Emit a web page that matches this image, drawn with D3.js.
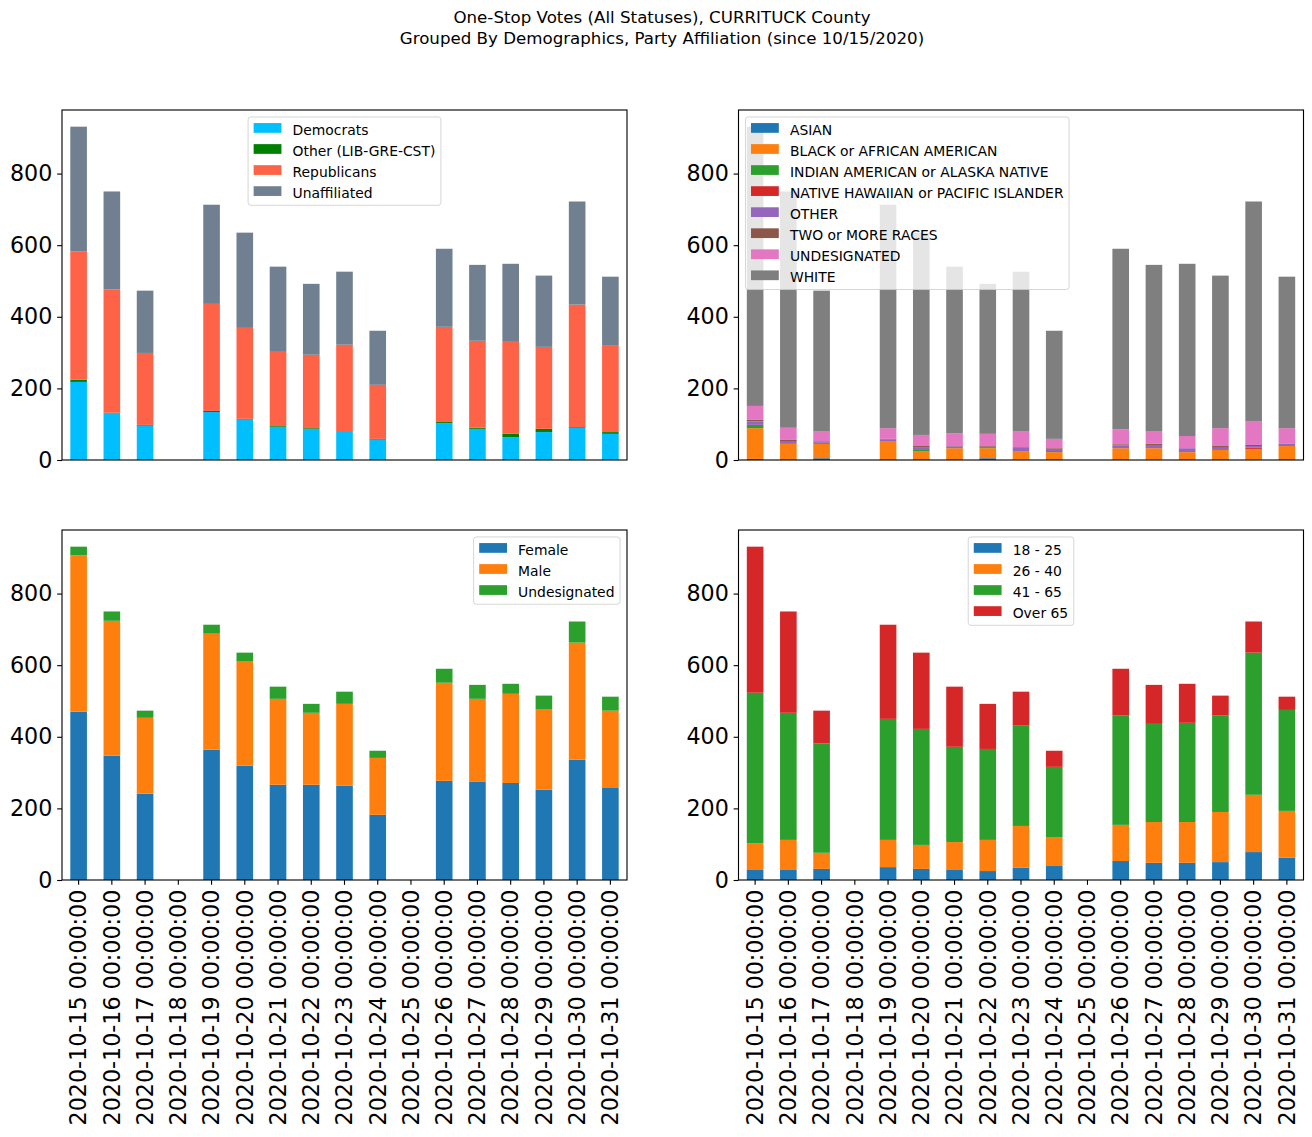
<!DOCTYPE html>
<html><head><meta charset="utf-8">
<script src="https://cdn.jsdelivr.net/npm/d3@7"></script>
<style>
body{margin:0;background:#fff}
svg{display:block}
text{font-family:"DejaVu Sans",sans-serif}
</style>
</head><body>
<svg id="c" width="1312" height="1137"></svg>
<script>
const dates = ["2020-10-15 00:00:00","2020-10-16 00:00:00","2020-10-17 00:00:00","2020-10-18 00:00:00","2020-10-19 00:00:00","2020-10-20 00:00:00","2020-10-21 00:00:00","2020-10-22 00:00:00","2020-10-23 00:00:00","2020-10-24 00:00:00","2020-10-25 00:00:00","2020-10-26 00:00:00","2020-10-27 00:00:00","2020-10-28 00:00:00","2020-10-29 00:00:00","2020-10-30 00:00:00","2020-10-31 00:00:00"];
const yTicks = [0,200,400,600,800];
const titleLines = ["One-Stop Votes (All Statuses), CURRITUCK County","Grouped By Demographics, Party Affiliation (since 10/15/2020)"];

// Party affiliation
const partyKeys = ["Democrats","Other (LIB-GRE-CST)","Republicans","Unaffiliated"];
const partyColors = ["#00bfff","#008000","#ff6347","#708090"];
const democrats    = [218,131,96,0,134,113,93,87,81,57,0,103,87,64,78,90,73];
const otherParty   = [6,1,2,0,3,2,2,2,0,2,0,3,3,9,9,2,5];
const republicans  = [358,344,201,0,299,254,207,205,241,151,0,266,243,257,229,342,241];
const unaffiliated = [349,274,174,0,277,266,238,198,204,151,0,218,212,218,199,288,193];

// Race
const raceKeys = ["ASIAN","BLACK or AFRICAN AMERICAN","INDIAN AMERICAN or ALASKA NATIVE","NATIVE HAWAIIAN or PACIFIC ISLANDER","OTHER","TWO or MORE RACES","UNDESIGNATED","WHITE"];
const raceColors = ["#1f77b4","#ff7f0e","#2ca02c","#d62728","#9467bd","#8c564b","#e377c2","#7f7f7f"];
const asian        = [3,0,5,0,0,2,2,5,1,2,0,0,1,0,2,1,2];
const black        = [86,45,40,0,53,23,31,28,24,20,0,33,32,22,26,30,37];
const indian       = [9,0,3,0,0,3,0,3,0,3,0,0,0,0,0,0,0];
const hawaiian     = [0,0,0,0,0,0,0,0,0,0,0,0,0,0,0,3,0];
const otherRace    = [10,8,4,0,5,8,5,1,11,6,0,8,9,11,6,5,6];
const twoOrMore    = [4,3,1,0,1,3,1,2,0,2,0,3,3,0,5,3,0];
const undesRace    = [39,34,28,0,30,31,36,34,45,26,0,42,36,34,50,67,44];
const white        = [780,660,392,0,624,565,465,419,445,302,0,504,464,481,426,613,423];

// Gender
const genderKeys = ["Female","Male","Undesignated"];
const genderColors = ["#1f77b4","#ff7f0e","#2ca02c"];
const female       = [470,347,241,0,364,319,266,266,263,182,0,277,274,271,252,336,257];
const male         = [437,377,212,0,324,291,240,201,229,159,0,274,232,249,224,327,216];
const undesGender  = [24,26,20,0,25,25,34,25,34,20,0,39,39,28,39,59,39];

// Age
const ageKeys = ["18 - 25","26 - 40","41 - 65","Over 65"];
const ageColors = ["#1f77b4","#ff7f0e","#2ca02c","#d62728"];
const age18_25 = [28,28,31,0,36,31,28,25,34,39,0,53,48,48,50,78,62];
const age26_40 = [75,84,45,0,76,67,78,87,117,81,0,101,114,114,140,160,131];
const age41_65 = [420,355,305,0,338,324,266,254,280,196,0,305,274,277,269,397,282];
const ageOver65 = [408,283,92,0,263,213,168,126,95,45,0,131,109,109,56,87,37];

const panels = [
  {x0:62,  y0:110, keys:partyKeys,  colors:partyColors,  series:[democrats,otherParty,republicans,unaffiliated], legend:"center", showX:false},
  {x0:738.5, y0:110, keys:raceKeys,   colors:raceColors,   series:[asian,black,indian,hawaiian,otherRace,twoOrMore,undesRace,white], legend:"left", showX:false},
  {x0:62,  y0:530, keys:genderKeys, colors:genderColors, series:[female,male,undesGender], legend:"right", showX:true},
  {x0:738.5, y0:530, keys:ageKeys,    colors:ageColors,    series:[age18_25,age26_40,age41_65,ageOver65], legend:"center", showX:true}
];

const W = 565, H = 350;
const TICK = 22.2, LEG = 13.9, PT = 1.389;
const svg = d3.select("#c");

// title
svg.append("g").selectAll("text").data(titleLines).join("text")
  .attr("x", 662).attr("y", (d,i)=> 23 + i*21.4)
  .attr("text-anchor","middle").attr("font-size",16.67).attr("fill","#000")
  .text(d=>d);

panels.forEach(p => {
  const rows = dates.map((d,i) => {
    const r = {date:d};
    p.keys.forEach((k,j)=> r[k] = p.series[j][i]);
    return r;
  });
  const stacked = d3.stack().keys(p.keys)(rows);
  const maxTotal = d3.max(rows, r => d3.sum(p.keys, k => r[k]));
  const x = d3.scaleBand().domain(dates).range([0,W]).paddingInner(0.5).paddingOuter(0.25);
  const y = d3.scaleLinear().domain([0, maxTotal*1.05]).range([H,0]);
  const g = svg.append("g").attr("transform",`translate(${p.x0},${p.y0})`);

  g.selectAll("g.layer").data(stacked).join("g").attr("class","layer")
    .attr("fill",(d,i)=>p.colors[i])
    .selectAll("rect").data(d=>d).join("rect")
    .attr("x", d=>x(d.data.date)).attr("width", x.bandwidth())
    .attr("y", d=>y(d[1])).attr("height", d=>Math.max(0, y(d[0])-y(d[1])));

  // y axis
  const ya = g.append("g").call(d3.axisLeft(y).tickValues(yTicks).tickSize(3.5*PT).tickPadding(3.5*PT));
  ya.select(".domain").remove();
  ya.selectAll("line").attr("stroke","#000").attr("stroke-width",0.8*PT);
  ya.selectAll("text").attr("font-size",TICK).attr("font-family","DejaVu Sans").attr("fill","#000");

  if (p.showX) {
    const xa = g.append("g").attr("transform",`translate(0,${H})`)
      .call(d3.axisBottom(x).tickSize(3.5*PT).tickPadding(3.5*PT));
    xa.select(".domain").remove();
    xa.selectAll("line").attr("stroke","#000").attr("stroke-width",0.8*PT);
    xa.selectAll("text").attr("font-size",TICK).attr("font-family","DejaVu Sans").attr("fill","#000")
      .attr("transform","rotate(-90)").attr("text-anchor","end")
      .attr("x", -7*PT).attr("y",0).attr("dy","0.35em");
  }

  // spines
  g.append("rect").attr("x",0).attr("y",0).attr("width",W).attr("height",H)
    .attr("fill","none").attr("stroke","#000").attr("stroke-width",0.8*PT);

  // legend
  const lg = g.append("g");
  const box = lg.append("rect");
  const items = lg.selectAll("g.item").data(p.keys).join("g").attr("class","item");
  const rowStep = 21.05, firstC = 11;
  items.append("rect").attr("x",5.56).attr("y",(d,i)=>firstC + i*rowStep - 4.87)
    .attr("width",27.8).attr("height",9.73).attr("fill",(d,i)=>p.colors[i]);
  const texts = items.append("text").attr("x",5.56+27.8+11.12).attr("y",(d,i)=>firstC + i*rowStep + 6.7)
    .attr("font-size",LEG).attr("fill","#000").text(d=>d);
  let tw = 0; texts.each(function(){ tw = Math.max(tw, this.getComputedTextLength()); });
  const bw = 50.04 + tw;
  const bh = 2*5.56 + p.keys.length*14.1 + (p.keys.length-1)*6.95;
  box.attr("width",bw).attr("height",bh).attr("rx",2.8).attr("ry",2.8)
    .attr("fill","#fff").attr("fill-opacity",0.8)
    .attr("stroke","#cccccc").attr("stroke-opacity",0.8).attr("stroke-width",1);
  const pad = 0.5*LEG;
  let lx;
  if (p.legend === "center") lx = W/2 - bw/2;
  else if (p.legend === "left") lx = pad;
  else lx = W - pad - bw;
  lg.attr("transform",`translate(${lx},${pad})`);
});
</script>
</body></html>
